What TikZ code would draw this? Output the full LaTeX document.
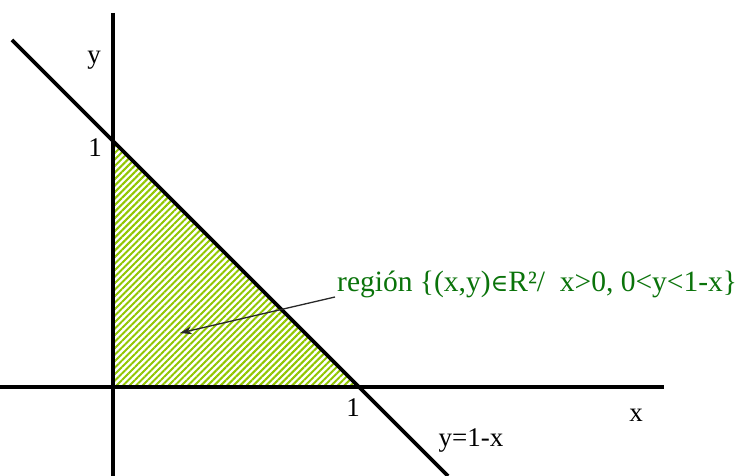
\documentclass[tikz,border=0pt]{standalone}
\usepackage{fontspec}
\setmainfont{Liberation Serif}
\newfontfamily\symfont{DejaVu Serif}
\usetikzlibrary{patterns.meta,arrows.meta}
\definecolor{hatchgreen}{RGB}{145,198,0}
\definecolor{textgreen}{RGB}{10,115,10}
\definecolor{arrowgray}{RGB}{40,40,40}
\tikzset{
  axisline/.style={line width=3.6pt,black},
  lbl/.style={font=\fontsize{27}{30}\selectfont,inner sep=0pt},
  regionlbl/.style={font=\fontsize{29.5}{32}\selectfont,text=textgreen,inner sep=0pt},
  pointer/.style={line width=1.3pt,arrowgray,-{Stealth[length=12pt,width=8pt]}}
}
\begin{document}
\begin{tikzpicture}[x=1pt,y=-1pt]
\useasboundingbox (0,0) rectangle (737,476);
% hatched region
\fill[pattern={Lines[angle=45,distance=4.6pt,line width=2pt]},pattern color=hatchgreen]
  (113,143) -- (113,387) -- (357,387) -- cycle;
% axes and line
\draw[axisline] (113,13) -- (113,476);
\draw[axisline] (0,387) -- (664,387);
\draw[axisline] (12,40) -- (448,476);
% labels
\node[lbl] (ylab) at (94,60) {y};
\node[lbl] (yone) at (95,148) {1};
\node[lbl] (xone) at (353,408) {1};
\node[lbl] (xlab) at (636,415) {x};
\node[lbl] (linelab) at (471,441) {y=1-x};
\node[regionlbl,anchor=base west] (region) at (337,291) {región \{(x,y){\symfont\fontsize{24}{26}\selectfont ∈}R²/\ \ x>0, 0<y<1-x\}};
\coordinate (pstart) at (335,297);
\coordinate (ptip) at (180,333);
\draw[pointer] (pstart) -- (ptip);
\end{tikzpicture}
\end{document}
